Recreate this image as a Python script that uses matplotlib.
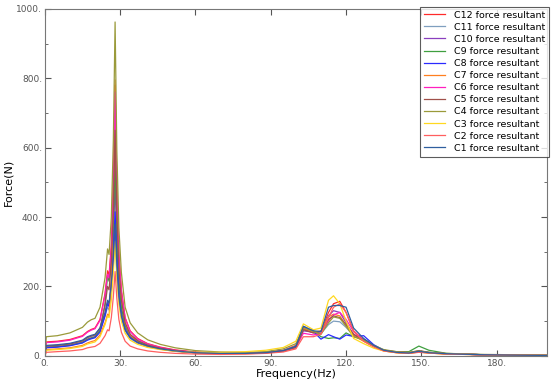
import matplotlib
matplotlib.use('Agg')
import matplotlib.pyplot as plt
from matplotlib.ticker import MultipleLocator, FuncFormatter

# frequency grid (Hz), shared by all curves
freq = [0, 0.6, 5, 10, 15, 17, 18.5, 20, 22, 24,
        25, 25.6, 26.5, 27.3, 28, 28.7, 29.5, 30.5, 32, 34,
        37, 41, 46, 52, 60, 70, 80, 88, 95, 100,
        103, 107, 110, 113, 115, 117.5, 120, 123, 127, 131,
        135, 140, 145, 149, 153, 160, 175, 200]

# force resultant (N)
c12 = [0, 40, 42, 47, 58, 70, 76, 80, 105, 180,
       245, 232, 320, 500, 780, 480, 300, 190, 110, 72,
       50, 35, 25, 17, 11, 8, 8, 10, 16, 30,
       78, 66, 70, 125, 150, 157, 125, 72, 45, 28,
       16, 10, 8, 12, 9, 6, 3, 1]
c11 = [0, 28, 30, 34, 42, 52, 56, 58, 75, 115,
       140, 132, 190, 260, 350, 240, 160, 110, 72, 50,
       36, 26, 19, 13, 9, 7, 7, 9, 15, 28,
       80, 70, 64, 90, 100, 98, 82, 58, 45, 28,
       16, 10, 8, 14, 10, 6, 3, 1]
c10 = [0, 25, 27, 31, 39, 48, 52, 55, 72, 120,
       155, 148, 210, 330, 500, 320, 200, 130, 82, 56,
       40, 28, 20, 14, 9, 7, 7, 9, 14, 25,
       72, 68, 70, 115, 130, 125, 95, 62, 45, 28,
       15, 10, 8, 12, 9, 6, 3, 1]
c9 = [0, 24, 26, 30, 38, 47, 51, 54, 72, 150,
      230, 215, 270, 380, 560, 360, 220, 140, 88, 60,
      42, 29, 21, 14, 9, 7, 7, 9, 14, 26,
      80, 72, 55, 50, 52, 50, 66, 55, 48, 30,
      16, 12, 12, 28, 16, 7, 3, 1]
c8 = [0, 23, 25, 29, 37, 45, 49, 52, 68, 115,
      150, 142, 200, 290, 415, 280, 175, 115, 75, 52,
      38, 27, 20, 14, 9, 7, 7, 9, 14, 26,
      85, 70, 48, 61, 55, 48, 60, 56, 58, 32,
      16, 10, 8, 12, 9, 6, 3, 1]
c7 = [0, 18, 20, 23, 30, 37, 41, 44, 60, 95,
      120, 115, 230, 480, 795, 470, 280, 170, 95, 60,
      40, 27, 19, 13, 8, 6, 6, 8, 13, 24,
      80, 68, 72, 112, 120, 115, 88, 58, 42, 26,
      14, 9, 7, 11, 8, 5, 3, 1]
c6 = [0, 38, 40, 45, 56, 68, 74, 78, 102, 175,
      235, 224, 310, 480, 760, 470, 290, 185, 108, 70,
      48, 34, 24, 16, 10, 7, 7, 9, 14, 24,
      65, 60, 65, 100, 118, 125, 105, 70, 45, 28,
      16, 11, 9, 13, 9, 6, 3, 1]
c5 = [0, 28, 30, 34, 43, 53, 57, 60, 80, 145,
      200, 190, 270, 420, 650, 410, 250, 160, 95, 62,
      44, 31, 22, 15, 10, 7, 7, 9, 14, 24,
      75, 66, 70, 105, 115, 110, 90, 62, 45, 28,
      16, 11, 9, 15, 10, 6, 3, 1]
c4 = [0, 55, 58, 66, 82, 97, 104, 108, 140, 225,
      308, 292, 400, 620, 962, 590, 370, 240, 140, 95,
      66, 46, 33, 23, 15, 11, 10, 12, 20, 35,
      82, 70, 62, 95, 112, 108, 85, 55, 45, 30,
      18, 12, 10, 14, 10, 7, 4, 2]
c3 = [0, 16, 18, 21, 27, 34, 37, 40, 55, 90,
      115, 110, 160, 240, 330, 225, 150, 100, 65, 45,
      33, 24, 18, 13, 10, 10, 12, 16, 24, 42,
      92, 75, 80, 160, 173, 150, 100, 50, 35, 22,
      14, 9, 7, 11, 8, 5, 3, 1]
c2 = [0, 10, 12, 14, 18, 23, 25, 27, 36, 58,
      75, 72, 110, 170, 243, 165, 105, 68, 42, 28,
      20, 14, 10, 7, 5, 4, 5, 7, 11, 20,
      55, 55, 62, 110, 140, 150, 125, 70, 42, 26,
      14, 9, 7, 10, 8, 5, 3, 1]
c1 = [0, 30, 32, 36, 45, 55, 59, 62, 80, 125,
      160, 152, 210, 280, 380, 260, 170, 115, 75, 53,
      39, 28, 20, 14, 9, 7, 7, 9, 15, 27,
      85, 72, 70, 140, 145, 145, 140, 80, 50, 30,
      16, 10, 8, 13, 9, 6, 3, 1]

labels = ['C12 force resultant', 'C11 force resultant', 'C10 force resultant',
          'C9 force resultant', 'C8 force resultant', 'C7 force resultant',
          'C6 force resultant', 'C5 force resultant', 'C4 force resultant',
          'C3 force resultant', 'C2 force resultant', 'C1 force resultant']
series = [c12, c11, c10, c9, c8, c7, c6, c5, c4, c3, c2, c1]
colors = ['#ff2a2a', '#7f9fbf', '#8a3fbf', '#3f9f3f', '#2a2aff', '#ff7f1f',
          '#ff1fbf', '#a0504a', '#9a9a3a', '#ffd820', '#ff5f5f', '#2f5f9f']

fig = plt.figure(figsize=(5.53, 3.83), dpi=100)
ax = fig.add_axes([0.081, 0.071, 0.908, 0.906])

for vals, lab, col in zip(series, labels, colors):
    ax.plot(freq, vals, color=col, lw=0.9, label=lab)

ax.set_xlim(0, 200)
ax.set_ylim(0, 1000)
ax.xaxis.set_major_locator(MultipleLocator(30))
ax.yaxis.set_major_locator(MultipleLocator(200))
ax.yaxis.set_minor_locator(MultipleLocator(100))
fmt = FuncFormatter(lambda v, p: '%d.' % v)
ax.xaxis.set_major_formatter(fmt)
ax.yaxis.set_major_formatter(fmt)
ax.tick_params(which='both', direction='in', top=True, right=True,
               labelsize=6.5, labelcolor='#555555', color='#555555')
ax.tick_params(which='major', length=4, pad=2)
ax.tick_params(which='minor', length=2.5)
for s in ax.spines.values():
    s.set_color('#777777')
    s.set_linewidth(0.8)

ax.set_xlabel('Frequency(Hz)', fontsize=8, labelpad=1)
ax.set_ylabel('Force(N)', fontsize=8, labelpad=2)

leg = ax.legend(loc='upper right', bbox_to_anchor=(1.005, 1.006), fontsize=6.8,
                frameon=True, fancybox=False, borderaxespad=0,
                handlelength=2.2, labelspacing=0.33, borderpad=0.4,
                handletextpad=1.0)
leg.get_frame().set_edgecolor('#333333')
leg.get_frame().set_linewidth(0.8)

fig.savefig('out.png', dpi=100)
